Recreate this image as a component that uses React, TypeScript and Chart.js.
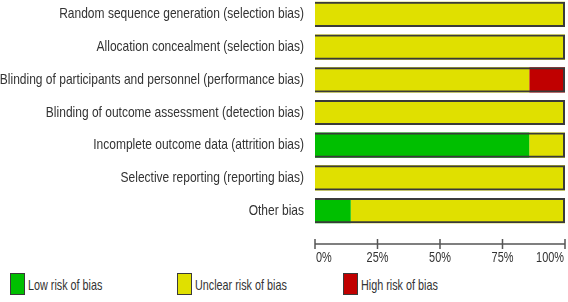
import React, { useEffect, useRef } from "react";
import { Chart, registerables } from "chart.js";

Chart.register(...registerables);

// Risk-of-bias domains (top to bottom)
const domains = [
  "Random sequence generation (selection bias)",
  "Allocation concealment (selection bias)",
  "Blinding of participants and personnel (performance bias)",
  "Blinding of outcome assessment (detection bias)",
  "Incomplete outcome data (attrition bias)",
  "Selective reporting (reporting bias)",
  "Other bias",
];

// Percentage of studies per judgement
const lowRisk = [0, 0, 0, 0, 85.7, 0, 14.3];
const unclearRisk = [100, 100, 85.7, 100, 14.3, 100, 85.7];
const highRisk = [0, 0, 14.3, 0, 0, 0, 0];

const percentTicks = [0, 25, 50, 75, 100];
const legendLabels = ["Low risk of bias", "Unclear risk of bias", "High risk of bias"];

const GREEN = "#00bf00";
const YELLOW = "#e0e000";
const RED = "#c00000";
const EDGE = "#3a3a3a";
const TEXT = "#333333";
const FONT = "'Liberation Sans', Arial, sans-serif";

const legendColors = [GREEN, YELLOW, RED];

// Draws text squeezed horizontally to get a narrow typeface look
function drawNarrow(
  ctx: CanvasRenderingContext2D,
  text: string,
  x: number,
  y: number,
  align: "left" | "right" | "center",
  squeeze: number
) {
  const w = ctx.measureText(text).width * squeeze;
  let left = x;
  if (align === "right") left = x - w;
  else if (align === "center") left = x - w / 2;
  ctx.save();
  ctx.translate(left, y);
  ctx.scale(squeeze, 1);
  ctx.textAlign = "left";
  ctx.textBaseline = "middle";
  ctx.fillText(text, 0, 0);
  ctx.restore();
}

// Category labels, percentage axis line, crossing tick marks and tick labels
const riskAxes = {
  id: "riskAxes",
  afterDraw(chart: any) {
    const xs = chart.scales.x;
    const ys = chart.scales.y;
    const { ctx, chartArea } = chart;

    ctx.save();
    ctx.fillStyle = TEXT;
    ctx.font = `15px ${FONT}`;
    domains.forEach((label, i) => {
      drawNarrow(ctx, label, chartArea.left - 11, ys.getPixelForTick(i), "right", 0.8);
    });

    const y = chartArea.bottom + 17;
    ctx.strokeStyle = "#555555";
    ctx.lineWidth = 1.5;
    ctx.beginPath();
    ctx.moveTo(xs.getPixelForValue(0), y);
    ctx.lineTo(xs.getPixelForValue(100), y);
    for (const t of percentTicks) {
      const px = xs.getPixelForValue(t);
      ctx.moveTo(px, y - 5);
      ctx.lineTo(px, y + 5);
    }
    ctx.stroke();

    ctx.font = `14px ${FONT}`;
    percentTicks.forEach((t, i) => {
      const px = xs.getPixelForValue(t);
      const align = i === 0 ? "left" : i === percentTicks.length - 1 ? "right" : "center";
      const shift = i === 0 ? 1 : i === percentTicks.length - 1 ? -1 : 0;
      drawNarrow(ctx, t + "%", px + shift, y + 14, align, 0.78);
    });
    ctx.restore();
  },
};

export default function App() {
  const canvasRef = useRef<HTMLCanvasElement | null>(null);

  useEffect(() => {
    if (!canvasRef.current) return;
    const totals = domains.map((_, i) => lowRisk[i] + unclearRisk[i] + highRisk[i]);
    const chart = new Chart(canvasRef.current, {
      type: "bar",
      data: {
        labels: domains,
        datasets: [
          {
            label: "outline",
            data: totals,
            stack: "outline",
            backgroundColor: "rgba(0,0,0,0)",
            borderColor: EDGE,
            borderWidth: 2,
            order: 0,
          },
          { label: legendLabels[0], data: lowRisk, stack: "risk", backgroundColor: GREEN, borderWidth: 0, order: 1 },
          { label: legendLabels[1], data: unclearRisk, stack: "risk", backgroundColor: YELLOW, borderWidth: 0, order: 1 },
          { label: legendLabels[2], data: highRisk, stack: "risk", backgroundColor: RED, borderWidth: 0, order: 1 },
        ],
      },
      options: {
        indexAxis: "y",
        responsive: false,
        animation: false,
        datasets: {
          bar: { grouped: false, barPercentage: 0.77, categoryPercentage: 1 },
        },
        layout: { padding: { top: 1, right: 3, bottom: 40, left: 0 } },
        plugins: {
          legend: { display: false },
          tooltip: { enabled: false },
        },
        scales: {
          x: {
            stacked: true,
            min: 0,
            max: 100,
            grid: { display: false, drawTicks: false },
            border: { display: false },
            ticks: { display: false },
          },
          y: {
            stacked: true,
            grid: { display: false, drawTicks: false },
            border: { display: false },
            ticks: { display: false },
            afterFit: (s: any) => {
              s.width = 315;
            },
          },
        },
      },
      plugins: [riskAxes],
    });
    return () => chart.destroy();
  }, []);

  return (
    <div
      style={{
        position: "fixed",
        left: 0,
        top: 0,
        width: 568,
        height: 302,
        background: "#ffffff",
        overflow: "hidden",
        fontFamily: FONT,
      }}
    >
      <canvas
        ref={canvasRef}
        width={568}
        height={270}
        style={{ position: "absolute", left: 0, top: -3 }}
      />
      {legendLabels.map((label, i) => (
        <div
          key={label}
          style={{
            position: "absolute",
            left: [10, 177, 343][i],
            top: 273,
            height: 22,
            display: "flex",
            alignItems: "center",
            whiteSpace: "nowrap",
          }}
        >
          <div
            style={{
              width: 13,
              height: 20,
              background: legendColors[i],
              border: `1px solid ${EDGE}`,
              marginRight: 3,
              flex: "none",
            }}
          />
          <span
            style={{
              display: "inline-block",
              fontSize: 15,
              color: TEXT,
              transform: "scaleX(0.72)",
              transformOrigin: "left center",
            }}
          >
            {label}
          </span>
        </div>
      ))}
    </div>
  );
}
